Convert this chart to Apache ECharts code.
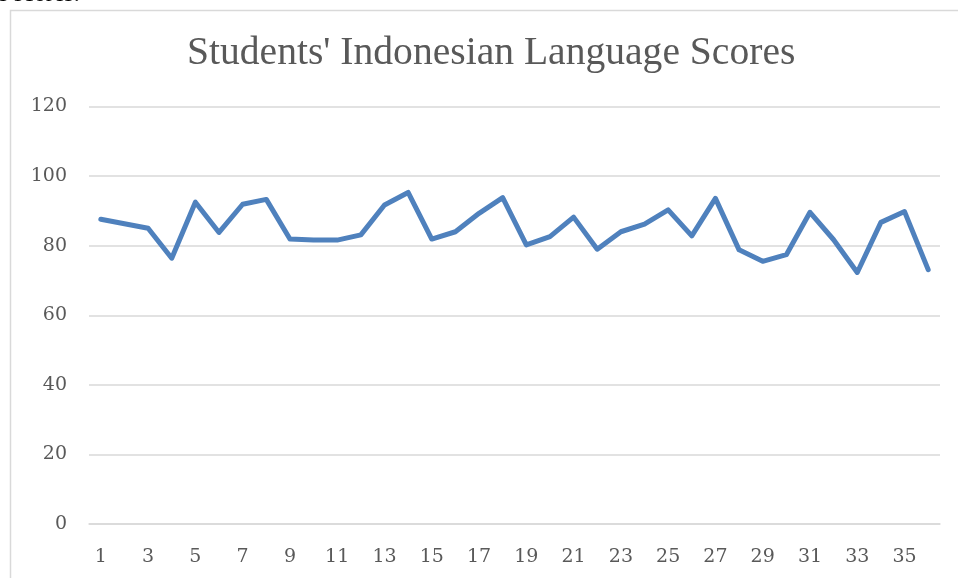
<!DOCTYPE html>
<html>
<head>
<meta charset="utf-8">
<script src="https://cdn.jsdelivr.net/npm/echarts@6/dist/echarts.min.js"></script>
<style>
  html, body { margin: 0; padding: 0; background: #fff; }
  #chart { width: 958px; height: 578px; }
</style>
</head>
<body>
<div id="chart"></div>
<script>
// student numbers 1..36
const students = ['1','2','3','4','5','6','7','8','9','10','11','12','13','14','15','16','17','18',
                  '19','20','21','22','23','24','25','26','27','28','29','30','31','32','33','34','35','36'];
const scores = [87.6, 86.3, 85.0, 76.4, 92.5, 83.8, 91.9, 93.3, 81.9, 81.6, 81.6, 83.1,
                91.7, 95.3, 81.9, 84.0, 89.3, 93.8, 80.2, 82.6, 88.2, 79.0, 84.0, 86.2,
                90.3, 82.8, 93.6, 78.8, 75.5, 77.4, 89.6, 81.7, 72.3, 86.7, 89.8, 73.1];
const yTicks = { min: 0, max: 120, step: 20 };

const chart = echarts.init(document.getElementById('chart'));
const serif = 'Liberation Serif';
const tickFont = 'DejaVu Serif';

const option = {
    animation: false,
    title: {
        text: "Students' Indonesian Language Scores",
        left: 182,
        top: 29,
        textStyle: { fontFamily: serif, fontSize: 39.6, fontWeight: 'normal', color: '#595959' }
    },
    graphic: [
        {
            type: 'rect',
            shape: { x: 10.5, y: 10.5, width: 1000, height: 1000 },
            style: { fill: 'none', stroke: '#d9d9d9', lineWidth: 1.5 }
        },
        {
            type: 'text',
            left: -3,
            top: -17,
            style: { text: 'e scores.', font: '24px "Liberation Serif"', fill: '#000' }
        }
    ],
    grid: { left: 89, right: 18, top: 106.5, bottom: 54 },
    xAxis: {
        type: 'category',
        data: students,
        boundaryGap: true,
        axisLine: { lineStyle: { color: '#d9d9d9', width: 1.5 } },
        axisTick: { show: false },
        axisLabel: {
            interval: 1,
            margin: 24,
            color: '#595959',
            fontFamily: tickFont,
            fontSize: 19
        }
    },
    yAxis: {
        type: 'value',
        min: yTicks.min,
        max: yTicks.max,
        interval: yTicks.step,
        axisLine: { show: false },
        axisTick: { show: false },
        axisLabel: { margin: 22, color: '#595959', fontFamily: tickFont, fontSize: 19 },
        splitLine: { lineStyle: { color: '#d9d9d9', width: 1.5 } }
    },
    series: [{
        type: 'line',
        data: scores,
        symbol: 'none',
        lineStyle: { color: '#4f81bd', width: 5, join: 'round', cap: 'round' }
    }]
};
chart.setOption(option);
</script>
</body>
</html>
